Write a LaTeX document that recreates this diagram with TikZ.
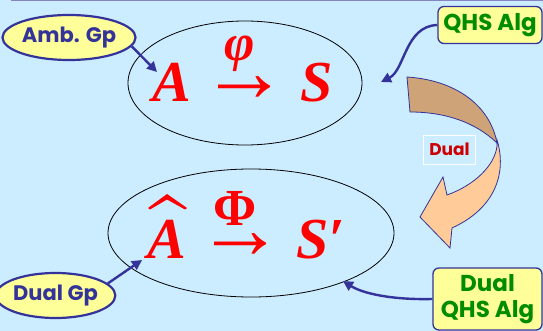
\documentclass[tikz,border=0pt]{standalone}
\usepackage{fontspec}
\setmainfont{Liberation Serif}
\newfontfamily\tagfont{Poppins}
\usetikzlibrary{arrows.meta,shapes.geometric}
\definecolor{sky}{RGB}{204,236,255}
\definecolor{navy}{RGB}{51,51,153}
\definecolor{pale}{RGB}{255,255,153}
\definecolor{grass}{RGB}{0,140,0}
\definecolor{bark}{RGB}{206,163,120}
\definecolor{peach}{RGB}{255,204,153}
\definecolor{wine}{RGB}{204,0,0}
\tikzset{
  >={Triangle[length=10pt,width=10pt]},
  tag/.style={ellipse,draw=navy,line width=2.2pt,fill=pale,text=navy,inner sep=0pt,
    font=\tagfont\bfseries\fontsize{21}{24}\selectfont},
  alg/.style={draw=navy,line width=1.3pt,fill=pale,rounded corners=6pt,text=grass,align=center,
    inner sep=0pt,font=\tagfont\bfseries\fontsize{23}{26}\selectfont},
  link/.style={->,draw=navy,line width=2.4pt},
  group/.style={ellipse,draw=black,line width=0.8pt},
  sym/.style={text=red,inner sep=0pt,font=\bfseries\itshape\fontsize{58}{60}\selectfont},
  upsym/.style={text=red,inner sep=0pt,font=\bfseries\fontsize{#1}{#1}\selectfont},
  upsym/.default=58,
}
\begin{document}
\begin{tikzpicture}[x=1pt,y=-1pt]
  \useasboundingbox[fill=sky] (0,0) rectangle (543,331);
  \draw[navy!60,line width=1.5pt] (11,0.75) -- (543,0.75);
  % the two groups
  \node[group,minimum width=234,minimum height=124] (top) at (245,83) {};
  \node[group,minimum width=286,minimum height=128] (bot) at (251,233) {};
  \node[sym,anchor=base west] (A) at (152,102) {A};
  \node[upsym=88] (to) at (244,89) {→};
  \node[sym,anchor=base west] (S) at (300,102) {S};
  \node[sym,font=\bfseries\itshape\fontsize{52}{52}\selectfont] (phi) at (240,54) {φ};
  \node[sym,anchor=base west] (Ah) at (147,258) {A};
  \fill[red] (148,208) -- (167,194) -- (187,208) -- (185,209.5) -- (167,199.5) -- (150,209.5) -- cycle;
  \node[upsym=52] (Phi) at (235,208) {Φ};
  \node[upsym=88] (to2) at (240,246) {→};
  \node[sym,anchor=base west] (Sp) at (296,258) {S′};
  % labels
  \node[tag,minimum width=112,minimum height=45] (amb) at (69,37.5) {Amb. Gp};
  \node[tag,minimum width=97,minimum height=45] (dualgp) at (55.5,295.5) {Dual Gp};
  \node[alg,minimum width=104,minimum height=37] (qhs) at (490,25) {QHS Alg};
  \node[alg,minimum width=109,minimum height=62] (dualqhs) at (487.5,299) {Dual\\QHS Alg};
  \coordinate (atip) at (157,72);
  \coordinate (qtip) at (381,82);
  \coordinate (dtip) at (142,260);
  \coordinate (etip) at (343,281);
  \draw[link] (amb.-8) -- (atip);
  \draw[link] (dualgp.13) -- (dtip);
  \draw[link] (qhs.west) .. controls (405,26) and (405,70) .. (qtip);
  \draw[link] (dualqhs.west) .. controls (390,300) and (362,293) .. (etip);
  % the big turning arrow
  \draw[navy,line width=0.8pt,fill=peach] (497,140) .. controls (505,165) and (502,205) .. (452,228)
    -- (450,248) -- (420,217) -- (443,177) -- (447,195)
    .. controls (475,185) and (495,165) .. (497,146) -- cycle;
  \draw[navy,line width=0.8pt,fill=bark] (407,77) .. controls (455,80) and (490,105) .. (497,143)
    .. controls (475,122) and (445,112) .. (410,112) -- cycle;
  \node[draw=white,line width=0.6pt,minimum width=52,minimum height=29,text=wine,
    font=\tagfont\bfseries\fontsize{17}{19}\selectfont] (dual) at (449.5,149.7) {Dual};
\end{tikzpicture}
\end{document}
